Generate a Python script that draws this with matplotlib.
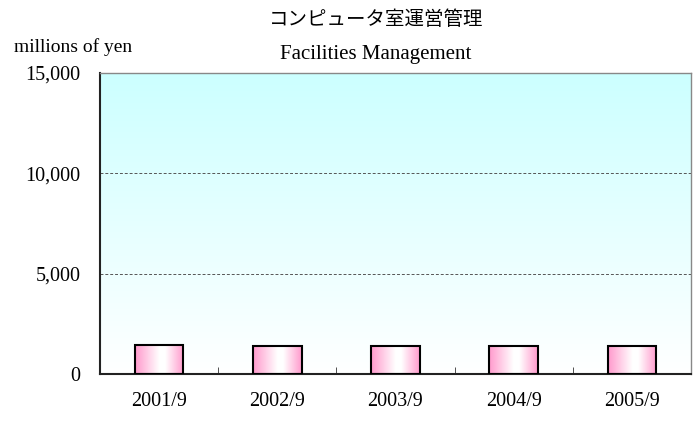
import numpy as np
import matplotlib.pyplot as plt
from matplotlib.colors import LinearSegmentedColormap

years = ["2001/9", "2002/9", "2003/9", "2004/9", "2005/9"]
amounts = [1450, 1380, 1380, 1380, 1380]
y_ticks = [0, 5000, 10000, 15000]

serif = ["Liberation Serif", "DejaVu Serif"]
jp = ["Liberation Serif", "Noto Sans CJK JP"]

fig = plt.figure(figsize=(6.96, 4.22), dpi=100)
ax = fig.add_axes([100 / 696, 1 - 374 / 422, 591 / 696, 301 / 422])

x = np.arange(len(years))
ax.set_xlim(-0.5, len(years) - 0.5)
ax.set_ylim(0, 15000)

# background: light cyan at top fading to white
bg = LinearSegmentedColormap.from_list("bg", ["#ffffff", "#ccffff"])
grad = np.linspace(0, 1, 256).reshape(-1, 1)
ax.imshow(grad, cmap=bg, origin="lower", aspect="auto",
          extent=[-0.5, len(years) - 0.5, 0, 15000], zorder=0)

for yv in y_ticks[1:-1]:
    ax.axhline(yv, color="#555555", linestyle=(0, (3, 2)), linewidth=0.7, zorder=1)

bars = ax.bar(x, amounts, width=0.41, facecolor="none", edgecolor="black",
              linewidth=1.5, zorder=3)

# pink horizontal gradient inside each bar
pink = LinearSegmentedColormap.from_list(
    "pink", [(0, "#ff99cc"), (0.5, "#ffffff"), (0.62, "#ffffff"), (1, "#ff99cc")])
hgrad = np.linspace(0, 1, 256).reshape(1, -1)
for b in bars:
    ax.imshow(hgrad, cmap=pink, aspect="auto", zorder=2,
              extent=[b.get_x(), b.get_x() + b.get_width(), 0, b.get_height()])

ax.set_xticks(x)
ax.set_xticklabels(years, fontfamily=serif, fontsize=14.5)
ax.set_xticks(np.arange(len(years) + 1) - 0.5, minor=True)
ax.tick_params(axis="x", which="major", length=0, pad=13)
ax.tick_params(axis="x", which="minor", direction="in", length=5, color="#333333")

ax.set_yticks(y_ticks)
ax.set_yticklabels([f"{v:,}" for v in y_ticks], fontfamily=serif, fontsize=14.5)
ax.tick_params(axis="y", length=0, pad=14)

for side in ["left", "bottom"]:
    ax.spines[side].set_color("#222222")
    ax.spines[side].set_linewidth(1.5)
for side in ["top", "right"]:
    ax.spines[side].set_color("#888888")
    ax.spines[side].set_linewidth(1.0)

fig.text(376 / 696, 1 - 20 / 422, "コンピュータ室運営管理", family=jp,
         fontsize=14, ha="center", va="center")
fig.text(376 / 696, 1 - 55 / 422, "Facilities Management", family=serif,
         fontsize=15, ha="center", va="center")
fig.text(14 / 696, 1 - 47 / 422, "millions of yen", family=serif,
         fontsize=14, ha="left", va="center")

fig.savefig("out.png", dpi=100)
